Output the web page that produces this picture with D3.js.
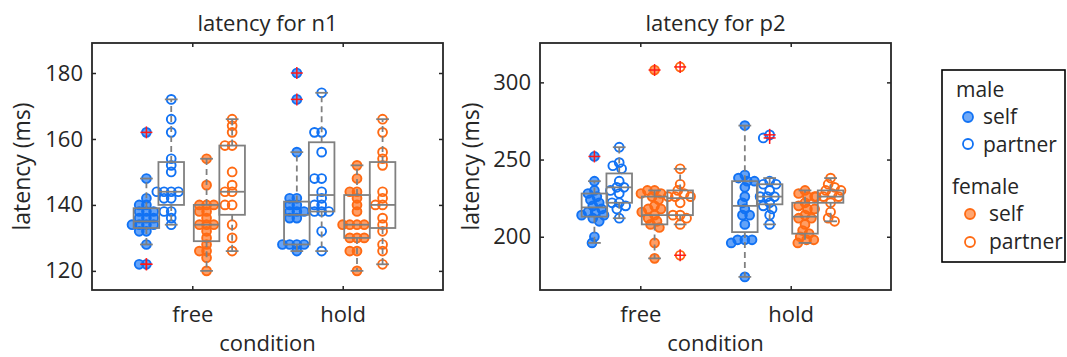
<!DOCTYPE html>
<html>
<head>
<meta charset="utf-8">
<script src="https://cdn.jsdelivr.net/npm/d3@7"></script>
<style>
  body { margin: 0; background: #fff; }
  text { font-family: 'Open Sans', sans-serif; fill: #262626; }
</style>
</head>
<body>
<svg id="chart" width="1067" height="357"></svg>
<script>
const conditions = ['free', 'hold'];
const groups = ['male self', 'male partner', 'female self', 'female partner'];

// latencies (ms), one list per group: male self, male partner, female self, female partner
const n1Free = [
  [162, 148, 142, 140, 140, 138, 138, 138, 136, 136, 136, 134, 134, 134, 134, 132, 132, 128, 122, 122],
  [172, 166, 162, 154, 152, 150, 144, 144, 144, 144, 142, 142, 138, 138, 136, 134],
  [154, 146, 140, 140, 140, 138, 138, 136, 134, 134, 134, 132, 130, 128, 126, 126, 124, 120],
  [166, 164, 162, 158, 158, 150, 146, 144, 144, 140, 140, 134, 130, 126]
];
const n1Hold = [
  [180, 172, 156, 142, 142, 140, 140, 138, 138, 138, 136, 136, 128, 128, 128, 128, 126],
  [174, 162, 162, 156, 148, 148, 144, 142, 140, 140, 138, 138, 138, 132, 126],
  [152, 148, 144, 144, 142, 140, 138, 134, 134, 134, 134, 130, 130, 130, 126, 126, 120],
  [166, 162, 156, 154, 152, 144, 142, 140, 140, 136, 134, 132, 128, 126, 122]
];
const p2Free = [
  [252, 236, 230, 228, 226, 224, 222, 220, 218, 216, 216, 214, 214, 212, 210, 200, 196],
  [258, 248, 246, 244, 236, 232, 232, 230, 228, 222, 222, 220, 218, 212],
  [308, 230, 230, 228, 228, 226, 224, 220, 218, 218, 216, 214, 212, 210, 208, 206, 196, 186],
  [310, 244, 234, 230, 228, 226, 226, 226, 222, 214, 214, 212, 208, 188]
];
const p2Hold = [
  [272, 240, 238, 236, 236, 232, 226, 222, 218, 214, 214, 208, 198, 198, 198, 196, 174],
  [266, 264, 236, 234, 234, 230, 226, 226, 226, 222, 220, 218, 214, 208],
  [230, 228, 226, 226, 222, 220, 218, 218, 214, 212, 212, 208, 204, 202, 200, 198, 198, 196],
  [238, 234, 232, 230, 230, 228, 226, 226, 226, 222, 216, 212, 210]
];

// box stats: [lower whisker, q1, median, q3, upper whisker]
const n1FreeBoxes = [[128, 133, 135, 139, 148], [134, 140, 144, 153, 172], [120, 129, 134, 140, 154], [126, 137, 144, 158, 166]];
const n1HoldBoxes = [[126, 128, 137, 141, 156], [126, 138, 143, 159, 174], [120, 130, 134, 143, 152], [122, 133, 140, 153, 166]];
const p2FreeBoxes = [[196, 213, 219, 228, 236], [212, 222, 232, 241, 258], [186, 208, 214, 226, 230], [208, 214, 225, 230, 244]];
const p2HoldBoxes = [[174, 203, 220, 236, 272], [208, 221, 226, 234, 238], [196, 202, 213, 222, 230], [210, 222, 226, 230, 238]];

const n1Ticks = [120, 140, 160, 180];
const p2Ticks = [200, 250, 300];

const blue = '#1172F4';
const orange = '#FF6A13';
const groupColor = [blue, blue, orange, orange];
const groupFilled = [true, false, true, false];
const groupOffset = [-0.305, -0.14, 0.095, 0.265];
const boxWidth = 0.17;

const svg = d3.select('#chart');

function swarm(vals, cx, y, dist) {
  const pts = vals.map(v => ({ v: v, y: y(v) })).sort((a, b) => a.y - b.y);
  const placed = [];
  pts.forEach(p => {
    for (let k = 0; k < 80; k++) {
      const dx = (k % 2 === 0 ? 1 : -1) * Math.ceil(k / 2) * 0.8;
      const x = cx + dx;
      const ok = placed.every(q => (q.x - x) * (q.x - x) + (q.y - p.y) * (q.y - p.y) >= dist * dist);
      if (ok) { p.x = x; break; }
    }
    placed.push(p);
  });
  return placed;
}

function drawPanel(opt) {
  const x = d3.scaleLinear().domain([1 / 3, 8 / 3]).range([opt.left, opt.right]);
  const y = d3.scaleLinear().domain(opt.domain).range([opt.bottom, opt.top]);
  const g = svg.append('g');

  // points
  conditions.forEach((c, ci) => {
    groups.forEach((grp, gi) => {
      const cx = x(ci + 1 + groupOffset[gi]);
      const pts = swarm(opt.values[ci][gi], cx, y, 6.5);
      g.append('g').selectAll('circle').data(pts).enter().append('circle')
        .attr('cx', d => d.x)
        .attr('cy', d => d.y)
        .attr('r', 4.4)
        .attr('fill', groupFilled[gi] ? groupColor[gi] : 'none')
        .attr('fill-opacity', 0.65)
        .attr('stroke', groupColor[gi])
        .attr('stroke-width', 1.9);
    });
  });

  // boxes on top
  conditions.forEach((c, ci) => {
    groups.forEach((grp, gi) => {
      const b = opt.boxes[ci][gi];
      const pos = ci + 1 + groupOffset[gi];
      const cx = x(pos);
      const x0 = x(pos - boxWidth / 2), x1 = x(pos + boxWidth / 2);
      const cw = (x1 - x0) / 4;
      const bg = g.append('g').attr('stroke', '#808080').attr('stroke-width', 1.8).attr('fill', 'none');
      bg.append('line').attr('x1', cx).attr('x2', cx).attr('y1', y(b[3])).attr('y2', y(b[4])).attr('stroke-dasharray', '6,4');
      bg.append('line').attr('x1', cx).attr('x2', cx).attr('y1', y(b[1])).attr('y2', y(b[0])).attr('stroke-dasharray', '6,4');
      bg.append('line').attr('x1', cx - cw).attr('x2', cx + cw).attr('y1', y(b[4])).attr('y2', y(b[4]));
      bg.append('line').attr('x1', cx - cw).attr('x2', cx + cw).attr('y1', y(b[0])).attr('y2', y(b[0]));
      bg.append('rect').attr('x', x0).attr('y', y(b[3])).attr('width', x1 - x0).attr('height', y(b[1]) - y(b[3]));
      bg.append('line').attr('x1', x0).attr('x2', x1).attr('y1', y(b[2])).attr('y2', y(b[2]));

      const outliers = opt.values[ci][gi].filter(v => v > b[4] || v < b[0]);
      const og = g.append('g').attr('stroke', '#FF1A1A').attr('stroke-width', 1.5);
      outliers.forEach(v => {
        og.append('line').attr('x1', cx - 6).attr('x2', cx + 6).attr('y1', y(v)).attr('y2', y(v));
        og.append('line').attr('x1', cx).attr('x2', cx).attr('y1', y(v) - 6).attr('y2', y(v) + 6);
      });
    });
  });

  // axes with inward ticks
  const catTicks = [1, 2];
  const left = g.append('g').attr('transform', 'translate(' + opt.left + ',0)')
    .call(d3.axisLeft(y).tickValues(opt.ticks).tickSizeInner(-4).tickSizeOuter(0).tickPadding(9));
  left.selectAll('text').attr('font-size', 22).attr('font-family', 'Open Sans').attr('fill', '#262626');
  g.append('g').attr('transform', 'translate(' + opt.right + ',0)')
    .call(d3.axisRight(y).tickValues(opt.ticks).tickSizeInner(-4).tickSizeOuter(0).tickFormat(''));
  const bottom = g.append('g').attr('transform', 'translate(0,' + opt.bottom + ')')
    .call(d3.axisBottom(x).tickValues(catTicks).tickSizeInner(-4).tickSizeOuter(0).tickPadding(16)
      .tickFormat((d, i) => conditions[i]));
  bottom.selectAll('text').attr('font-size', 22).attr('font-family', 'Open Sans').attr('fill', '#262626');
  g.append('g').attr('transform', 'translate(0,' + opt.top + ')')
    .call(d3.axisTop(x).tickValues(catTicks).tickSizeInner(-4).tickSizeOuter(0).tickFormat(''));
  g.selectAll('.domain').remove();
  g.selectAll('.tick line').attr('stroke', '#262626').attr('stroke-width', 1.5);

  g.append('rect')
    .attr('x', opt.left).attr('y', opt.top)
    .attr('width', opt.right - opt.left).attr('height', opt.bottom - opt.top)
    .attr('fill', 'none').attr('stroke', '#262626').attr('stroke-width', 1.8);

  g.append('text')
    .attr('x', (opt.left + opt.right) / 2).attr('y', 31)
    .attr('text-anchor', 'middle').attr('font-size', 22)
    .text(opt.title);
  g.append('text')
    .attr('x', (opt.left + opt.right) / 2).attr('y', 351)
    .attr('text-anchor', 'middle').attr('font-size', 22)
    .text('condition');
  g.append('text')
    .attr('transform', 'translate(' + opt.ylabelX + ',' + (opt.top + opt.bottom) / 2 + ') rotate(-90)')
    .attr('text-anchor', 'middle').attr('font-size', 23)
    .text('latency (ms)');
}

drawPanel({ left: 92, right: 443, top: 43, bottom: 290, domain: [114.2, 189.1], ticks: n1Ticks,
  values: [n1Free, n1Hold], boxes: [n1FreeBoxes, n1HoldBoxes], title: 'latency for n1', ylabelX: 30 });
drawPanel({ left: 540, right: 891, top: 43, bottom: 290, domain: [165.5, 325.5], ticks: p2Ticks,
  values: [p2Free, p2Hold], boxes: [p2FreeBoxes, p2HoldBoxes], title: 'latency for p2', ylabelX: 479 });

// legend
const legend = svg.append('g');
legend.append('rect').attr('x', 942).attr('y', 70).attr('width', 123).attr('height', 192)
  .attr('fill', '#fff').attr('stroke', '#000').attr('stroke-width', 1.6);
const legendRows = [
  { label: 'male', y: 97, x: 956 },
  { label: 'self', y: 124, x: 983, marker: 0, my: 117, mx: 968 },
  { label: 'partner', y: 152, x: 983, marker: 1, my: 144, mx: 968 },
  { label: 'female', y: 194, x: 952 },
  { label: 'self', y: 221, x: 989, marker: 2, my: 214, mx: 970 },
  { label: 'partner', y: 249, x: 989, marker: 3, my: 242, mx: 970 }
];
legendRows.forEach(r => {
  legend.append('text').attr('x', r.x).attr('y', r.y).attr('font-size', 21).attr('fill', '#000').text(r.label);
  if (r.marker !== undefined) {
    legend.append('circle').attr('cx', r.mx).attr('cy', r.my).attr('r', 5)
      .attr('fill', groupFilled[r.marker] ? groupColor[r.marker] : 'none')
      .attr('fill-opacity', 0.6)
      .attr('stroke', groupColor[r.marker]).attr('stroke-width', 1.8);
  }
});
</script>
</body>
</html>
